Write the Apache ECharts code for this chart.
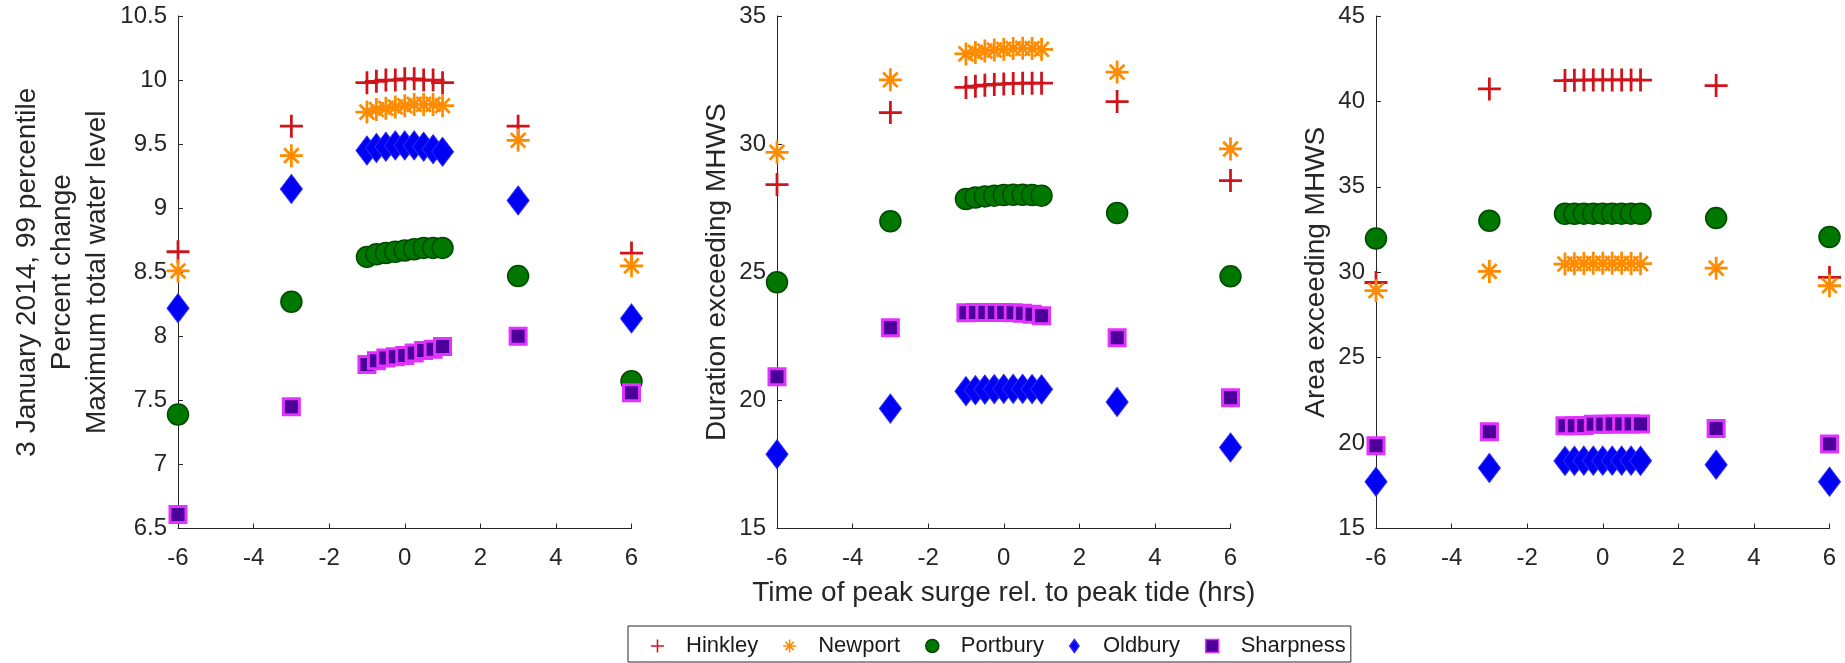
<!DOCTYPE html>
<html>
<head>
<meta charset="utf-8">
<title>Surge timing vs peak tide</title>
<script src="https://cdn.jsdelivr.net/npm/echarts@6/dist/echarts.min.js"></script>
<style>
  html, body { margin: 0; padding: 0; background: #fff; }
  #chart { width: 1845px; height: 663px; }
</style>
</head>
<body>
<div id="chart"></div>
<script>
// 时间轴（风暴潮峰值相对潮峰，小时）
const times = [-6, -3, -1, -0.75, -0.5, -0.25, 0, 0.25, 0.5, 0.75, 1, 3, 6];
const stationNames = ['Hinkley', 'Newport', 'Portbury', 'Oldbury', 'Sharpness'];

// 面板1：Maximum total water level (percent change)
const levelHinkley   = [8.66, 9.64, 9.98, 9.99, 10.0, 10.0, 10.01, 10.01, 10.0, 10.0, 9.98, 9.64, 8.65];
const levelNewport   = [8.51, 9.41, 9.75, 9.77, 9.78, 9.79, 9.80, 9.81, 9.81, 9.81, 9.80, 9.53, 8.55];
const levelPortbury  = [7.39, 8.27, 8.62, 8.64, 8.65, 8.66, 8.67, 8.68, 8.69, 8.69, 8.69, 8.47, 7.65];
const levelOldbury   = [8.22, 9.15, 9.45, 9.47, 9.48, 9.49, 9.49, 9.49, 9.48, 9.46, 9.44, 9.06, 8.14];
const levelSharpness = [6.61, 7.45, 7.78, 7.81, 7.83, 7.84, 7.85, 7.87, 7.89, 7.90, 7.92, 8.00, 7.56];

// 面板2：Duration exceeding MHWS
const durHinkley   = [28.42, 31.23, 32.21, 32.26, 32.30, 32.33, 32.35, 32.37, 32.38, 32.38, 32.38, 31.66, 28.58];
const durNewport   = [29.68, 32.51, 33.52, 33.58, 33.63, 33.67, 33.70, 33.73, 33.74, 33.73, 33.70, 32.81, 29.81];
const durPortbury  = [24.61, 26.99, 27.86, 27.92, 27.96, 27.99, 28.01, 28.02, 28.02, 28.01, 27.99, 27.31, 24.84];
const durOldbury   = [17.90, 19.68, 20.36, 20.40, 20.42, 20.44, 20.45, 20.45, 20.45, 20.44, 20.43, 19.94, 18.16];
const durSharpness = [20.92, 22.83, 23.42, 23.43, 23.43, 23.43, 23.43, 23.42, 23.40, 23.36, 23.30, 22.44, 20.10];

// 面板3：Area exceeding MHWS
const areaHinkley   = [29.40, 40.73, 41.22, 41.24, 41.25, 41.26, 41.26, 41.26, 41.26, 41.26, 41.25, 40.93, 29.70];
const areaNewport   = [28.92, 30.05, 30.48, 30.50, 30.51, 30.52, 30.52, 30.52, 30.52, 30.51, 30.50, 30.24, 29.21];
const areaPortbury  = [31.98, 33.01, 33.42, 33.42, 33.43, 33.43, 33.43, 33.43, 33.43, 33.43, 33.42, 33.17, 32.06];
const areaOldbury   = [17.74, 18.54, 18.95, 18.96, 18.97, 18.97, 18.97, 18.97, 18.97, 18.97, 18.96, 18.73, 17.74];
const areaSharpness = [19.84, 20.66, 21.01, 21.02, 21.03, 21.10, 21.10, 21.11, 21.11, 21.11, 21.12, 20.86, 19.94];

// 坐标轴刻度
const yTicks1 = { min: 6.5, max: 10.5, interval: 0.5 };
const yTicks2 = { min: 15, max: 35, interval: 5 };
const yTicks3 = { min: 15, max: 45, interval: 5 };

const FONT = '"Liberation Sans", Arial, Helvetica, sans-serif';
const AXIS_COLOR = '#262626';

// MATLAB 风格的标记（+ 和 * 用填充路径画）
const PLUS = 'path://M44,0H56V44H100V56H56V100H44V56H0V44H44Z';
const STAR = 'path://M0,44H100V56H0ZM44,0H56V100H44Z' +
  'M22.4,13.9L86.1,77.6L77.6,86.1L13.9,22.4ZM77.6,13.9L86.1,22.4L22.4,86.1L13.9,77.6Z';
const DIAMOND = 'path://M36,0L72,50L36,100L0,50Z';
const SQUARE = 'path://M0,0H100V100H0Z';

const stationStyle = {
  Hinkley:   { symbol: PLUS, size: 23, itemStyle: { color: '#d0141c', opacity: 1 } },
  Newport:   { symbol: STAR, size: 23, itemStyle: { color: '#ff8c00', opacity: 1 } },
  Portbury:  { symbol: 'circle', size: 21, itemStyle: { color: '#007800', borderColor: '#004a00', borderWidth: 1.5, opacity: 1 } },
  Oldbury:   { symbol: DIAMOND, size: [22, 29], itemStyle: { color: '#0000f5', borderColor: '#2a2aff', borderWidth: 1, opacity: 1 } },
  Sharpness: { symbol: SQUARE, size: 16, itemStyle: { color: '#4c0099', borderColor: '#e033ff', borderWidth: 3, opacity: 1 } }
};

const panels = [
  { left: 178, yTicks: yTicks1, values: [levelHinkley, levelNewport, levelPortbury, levelOldbury, levelSharpness],
    yName: '3 January 2014, 99 percentile\nPercent change\nMaximum total water level', yGap: 63 },
  { left: 777, yTicks: yTicks2, values: [durHinkley, durNewport, durPortbury, durOldbury, durSharpness],
    yName: 'Duration exceeding MHWS', yGap: 42, xName: 'Time of peak surge rel. to peak tide (hrs)' },
  { left: 1376, yTicks: yTicks3, values: [areaHinkley, areaNewport, areaPortbury, areaOldbury, areaSharpness],
    yName: 'Area exceeding MHWS', yGap: 42 }
];

const grids = [], xAxes = [], yAxes = [], series = [];

panels.forEach((p, gi) => {
  grids.push({ left: p.left, top: 16, width: 453.5, height: 512.5 });

  xAxes.push({
    gridIndex: gi, type: 'value', min: -6, max: 6, interval: 2,
    name: p.xName || '', nameLocation: 'middle', nameGap: 47,
    nameTextStyle: { fontFamily: FONT, fontSize: 28, color: AXIS_COLOR, lineHeight: 35 },
    axisLine: { show: true, onZero: false, lineStyle: { color: AXIS_COLOR, width: 1 } },
    axisTick: { show: true, inside: true, length: 5, lineStyle: { color: AXIS_COLOR } },
    axisLabel: { fontFamily: FONT, fontSize: 24, color: AXIS_COLOR, margin: 18 },
    splitLine: { show: false }
  });

  yAxes.push({
    gridIndex: gi, type: 'value', min: p.yTicks.min, max: p.yTicks.max, interval: p.yTicks.interval,
    name: p.yName, nameLocation: 'middle', nameRotate: 90, nameGap: p.yGap,
    nameTextStyle: { fontFamily: FONT, fontSize: 28, color: AXIS_COLOR, lineHeight: 35, align: 'center' },
    axisLine: { show: true, onZero: false, lineStyle: { color: AXIS_COLOR, width: 1 } },
    axisTick: { show: true, inside: true, length: 5, lineStyle: { color: AXIS_COLOR } },
    axisLabel: { fontFamily: FONT, fontSize: 24, color: AXIS_COLOR, margin: 11 },
    splitLine: { show: false }
  });

  stationNames.forEach((name, si) => {
    const st = stationStyle[name];
    series.push({
      name: name,
      type: 'scatter',
      xAxisIndex: gi,
      yAxisIndex: gi,
      data: times.map((t, i) => [t, p.values[si][i]]),
      symbol: st.symbol,
      symbolSize: st.size,
      itemStyle: st.itemStyle,
      clip: false,
      silent: true,
      emphasis: { disabled: true }
    });
  });
});

const chart = echarts.init(document.getElementById('chart'));
chart.setOption({
  backgroundColor: '#ffffff',
  animation: false,
  textStyle: { fontFamily: FONT },
  grid: grids,
  xAxis: xAxes,
  yAxis: yAxes,
  legend: {
    data: stationNames,
    orient: 'horizontal',
    left: 628,
    top: 626,
    itemWidth: 13,
    itemHeight: 13,
    itemGap: 25,
    padding: [9, 5, 5, 23],
    borderColor: AXIS_COLOR,
    borderWidth: 1,
    borderRadius: 0,
    backgroundColor: '#ffffff',
    selectedMode: false,
    itemStyle: { borderWidth: 1.5 },
    textStyle: { fontFamily: FONT, fontSize: 22, color: '#1a1a1a', padding: [0, 0, 0, 17] }
  },
  series: series
});
</script>
</body>
</html>
